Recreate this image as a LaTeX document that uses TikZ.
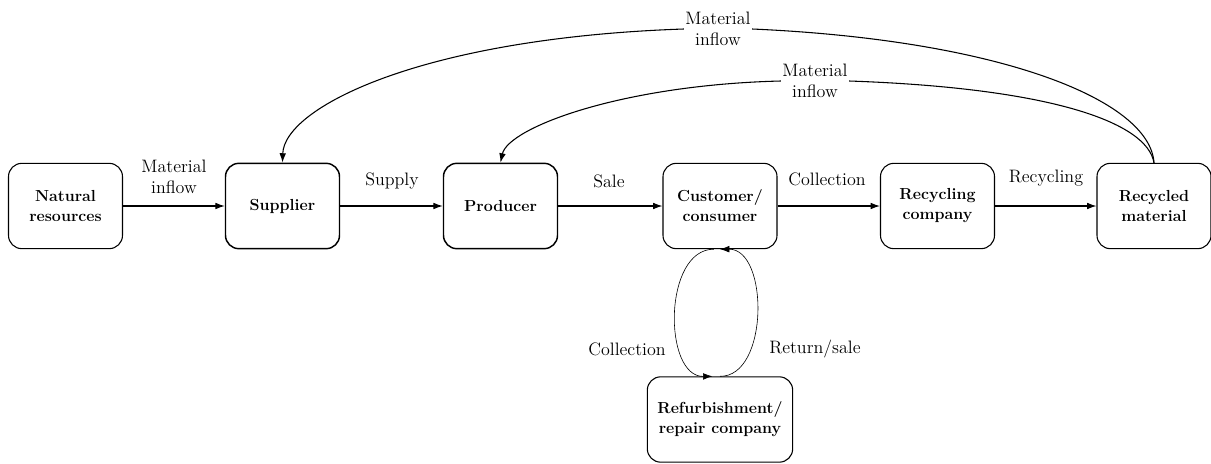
\documentclass[tikz,border=0pt]{standalone}
\usepackage{fontspec}
\usetikzlibrary{arrows.meta}
\begin{document}
\begin{tikzpicture}[x=0.75pt,y=-0.75pt,
  box/.style={draw,rounded corners=10pt,line width=0.8pt,minimum width=85.5pt,minimum height=64pt,
    align=center,font=\fontsize{12}{15}\selectfont\bfseries,inner sep=0pt},
  thick box/.style={box,line width=1.1pt},
  lbl/.style={align=center,font=\fontsize{13.5}{16}\selectfont,inner sep=1pt},
  flow/.style={line width=0.8pt,-{Latex[length=7pt,width=5pt]}},
  loopflow/.style={line width=0.45pt,-{Latex[length=7pt,width=5pt]}}]
\useasboundingbox (0,0) rectangle (1211,464);
\node[box] (nr) at (65.5,206) {Natural\\resources};
\node[thick box] (sp) at (282.5,206) {Supplier};
\node[thick box] (pr) at (500.5,206) {Producer};
\node[box] (cc) at (720,206) {Customer/\\consumer};
\node[box] (rc) at (937.5,206) {Recycling\\company};
\node[box] (rm) at (1154,206) {Recycled\\material};
\node[box,minimum width=109pt] (rf) at (720,419.5) {Refurbishment/\\repair company};

\draw[flow] (nr) -- (sp);
\draw[flow] (sp) -- (pr);
\draw[flow] (pr) -- (cc);
\draw[flow] (cc) -- (rc);
\draw[flow] (rc) -- (rm);

\node[lbl] at (174,177) {Material\\inflow};
\node[lbl] at (392,181) {Supply};
\node[lbl] at (609,181) {Sale};
\node[lbl] at (827,179) {Collection};
\node[lbl] at (1046,178) {Recycling};

% top feedback curves
\node[lbl] (l1) at (718,29) {Material\\inflow};
\node[lbl] (l2) at (815,81) {Material\\inflow};
\draw[line width=0.8pt] (rm.north) .. controls (1150,100) and (1000,40) .. (l1.east);
\draw[flow] (l1.west) .. controls (420,38) and (284,108) .. (sp.north);
\draw[line width=0.8pt] (rm.north) .. controls (1147,122) and (1050,88) .. (l2.east);
\draw[flow] (l2.west) .. controls (620,85) and (508,128) .. (pr.north);

% loop
\draw[loopflow] (cc.262) .. controls (663,249) and (663,377) .. (rf.100);
\draw[loopflow] (rf.north) .. controls (769,377) and (769,249) .. (cc.south);
\node[lbl] at (627,349) {Collection};
\node[lbl] at (815,349) {Return/sale};
\end{tikzpicture}
\end{document}
